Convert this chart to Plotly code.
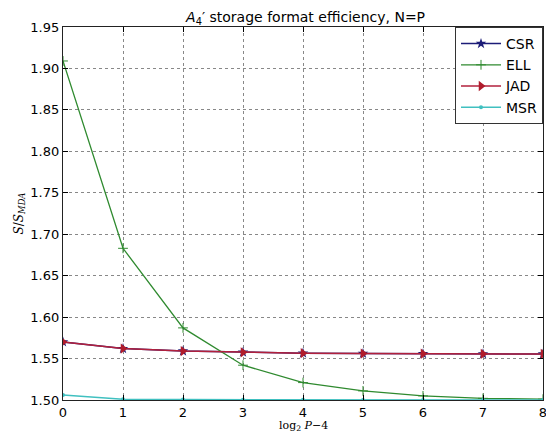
import plotly.graph_objects as go

x_vals = [0, 1, 2, 3, 4, 5, 6, 7, 8]
csr = [1.570, 1.562, 1.559, 1.5575, 1.5565, 1.556, 1.5558, 1.5556, 1.5555]
ell = [1.909, 1.683, 1.587, 1.542, 1.521, 1.511, 1.505, 1.502, 1.501]
jad = [1.570, 1.562, 1.559, 1.5575, 1.5565, 1.556, 1.5558, 1.5556, 1.5555]
msr = [1.506, 1.501, 1.5005, 1.5003, 1.5002, 1.5001, 1.5001, 1.5001, 1.5001]

y_ticks = [1.50, 1.55, 1.60, 1.65, 1.70, 1.75, 1.80, 1.85, 1.90, 1.95]

fig = go.Figure()
fig.add_trace(go.Scatter(x=x_vals, y=csr, name="CSR", mode="lines+markers",
                         line=dict(color="#1c1c78", width=1.5),
                         marker=dict(symbol="star", size=8, color="#1c1c78")))
fig.add_trace(go.Scatter(x=x_vals, y=ell, name="ELL", mode="lines+markers",
                         line=dict(color="#2f8a2f", width=1.3),
                         marker=dict(symbol="cross-thin", size=7, color="#2f8a2f",
                                     line=dict(color="#2f8a2f", width=1))))
fig.add_trace(go.Scatter(x=x_vals, y=jad, name="JAD", mode="lines+markers",
                         line=dict(color="#b2203c", width=1.5),
                         marker=dict(symbol="triangle-right", size=9, color="#b01c2c")))
fig.add_trace(go.Scatter(x=x_vals, y=msr, name="MSR", mode="lines+markers",
                         line=dict(color="#40c0c0", width=1.5),
                         marker=dict(symbol="circle", size=4, color="#40c0c0")))

axis_common = dict(showline=True, linecolor="#222", linewidth=1.2, mirror="ticks",
                   ticks="inside", ticklen=5, tickcolor="black", automargin=False,
                   showgrid=True, gridcolor="#888", griddash="dot", gridwidth=0.5,
                   zeroline=False, tickfont=dict(family="DejaVu Sans", size=13, color="black"))

fig.update_layout(
    width=546, height=426,
    paper_bgcolor="white", plot_bgcolor="white",
    margin=dict(l=55, r=11, t=19, b=34),
    title=dict(text="<i>A</i><sub>4</sub>′ storage format efficiency, N=P",
               x=0.545, xanchor="center", y=0.99, yanchor="top",
               font=dict(family="DejaVu Sans", size=14, color="black")),
    xaxis=dict(range=[0, 8], tickvals=x_vals, ticktext=[str(v) for v in x_vals],
               **axis_common),
    yaxis=dict(range=[1.50, 1.95], tickvals=y_ticks, ticktext=[f"{v:.2f}" for v in y_ticks],
               title=dict(text="<i>S</i>/<i>S</i><sub><i>MDA</i></sub>", standoff=4,
                          font=dict(family="DejaVu Serif", size=12, color="black")),
               **axis_common),
    legend=dict(x=1.0, y=1.0, xanchor="right", yanchor="top",
                bgcolor="white", bordercolor="#333", borderwidth=1,
                font=dict(family="DejaVu Sans", size=14, color="black"),
                itemwidth=40, tracegroupgap=2),
    showlegend=True,
    annotations=[dict(text="log<sub>2</sub> <i>P</i>−4", xref="paper", yref="paper",
                      x=0.5, y=-0.069, xanchor="center", yanchor="middle", showarrow=False,
                      font=dict(family="DejaVu Serif", size=11, color="black"))],
)

fig.write_html("out.html")
